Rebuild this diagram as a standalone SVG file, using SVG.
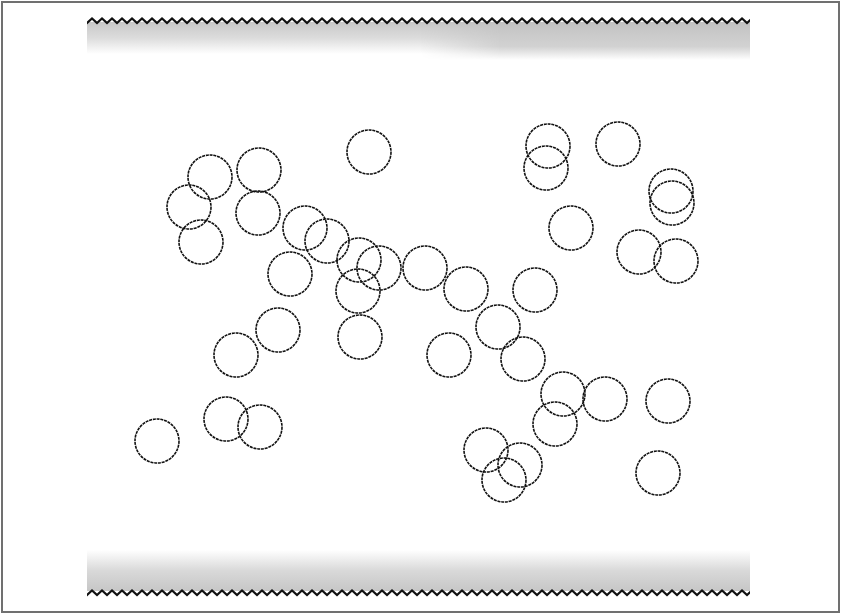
<svg xmlns="http://www.w3.org/2000/svg" width="842" height="615" viewBox="0 0 842 615">
  <defs>
    <linearGradient id="topFade" x1="0" y1="0" x2="0" y2="1">
      <stop offset="0" stop-color="#c8c8c8"/>
      <stop offset="0.5" stop-color="#dcdcdc"/>
      <stop offset="1" stop-color="#ffffff"/>
    </linearGradient>
    <linearGradient id="topFadeR" x1="0" y1="0" x2="0" y2="1">
      <stop offset="0" stop-color="#c2c2c2"/>
      <stop offset="0.65" stop-color="#d2d2d2"/>
      <stop offset="1" stop-color="#ffffff"/>
    </linearGradient>
    <linearGradient id="hFade" x1="0" y1="0" x2="1" y2="0">
      <stop offset="0" stop-color="#000"/>
      <stop offset="1" stop-color="#fff"/>
    </linearGradient>
    <mask id="rightMask" maskUnits="userSpaceOnUse" x="0" y="0" width="842" height="615">
      <rect x="420" y="18" width="80" height="50" fill="url(#hFade)"/>
      <rect x="500" y="18" width="250" height="50" fill="#fff"/>
    </mask>
    <linearGradient id="botFade" x1="0" y1="1" x2="0" y2="0">
      <stop offset="0" stop-color="#c6c6c6"/>
      <stop offset="0.5" stop-color="#d9d9d9"/>
      <stop offset="1" stop-color="#ffffff"/>
    </linearGradient>
    <pattern id="zig" patternUnits="userSpaceOnUse" x="87" y="17" width="10" height="8">
      <path d="M-5,1.5 L0,6 L5,1.5 L10,6 L15,1.5" fill="none" stroke="#111" stroke-width="2.1"/>
    </pattern>
    <pattern id="zigB" patternUnits="userSpaceOnUse" x="87" y="589" width="10" height="8">
      <path d="M-5,1.5 L0,6 L5,1.5 L10,6 L15,1.5" fill="none" stroke="#111" stroke-width="2.1"/>
    </pattern>
  </defs>
  <style>
    .ball { fill: none; stroke: #111; stroke-width: 1.6; stroke-dasharray: 3 0.8; }
  </style>
  <rect x="0" y="0" width="842" height="615" fill="#ffffff"/>
  <rect x="2" y="2" width="837" height="610" fill="none" stroke="#707070" stroke-width="2"/>

  <g id="top-wall">
    <rect x="87" y="22" width="663" height="32" fill="url(#topFade)"/>
    <rect x="87" y="22" width="663" height="38" fill="url(#topFadeR)" mask="url(#rightMask)"/>
    <rect x="87" y="17" width="663" height="8" fill="url(#zig)"/>
  </g>
  <g id="bottom-wall">
    <rect x="87" y="550" width="663" height="41" fill="url(#botFade)"/>
    <rect x="87" y="589" width="663" height="8" fill="url(#zigB)"/>
  </g>

  <g id="molecules">
    <circle class="ball" cx="369" cy="152" r="22"/>
    <circle class="ball" cx="548" cy="146" r="22"/>
    <circle class="ball" cx="546" cy="168" r="22"/>
    <circle class="ball" cx="618" cy="144" r="22"/>
    <circle class="ball" cx="210" cy="177" r="22"/>
    <circle class="ball" cx="259" cy="170" r="22"/>
    <circle class="ball" cx="189" cy="207" r="22"/>
    <circle class="ball" cx="258" cy="213" r="22"/>
    <circle class="ball" cx="201" cy="242" r="22"/>
    <circle class="ball" cx="305" cy="228" r="22"/>
    <circle class="ball" cx="327" cy="241" r="22"/>
    <circle class="ball" cx="571" cy="228" r="22"/>
    <circle class="ball" cx="671" cy="191" r="22"/>
    <circle class="ball" cx="672" cy="203" r="22"/>
    <circle class="ball" cx="639" cy="252" r="22"/>
    <circle class="ball" cx="676" cy="261" r="22"/>
    <circle class="ball" cx="290" cy="274" r="22"/>
    <circle class="ball" cx="359" cy="260" r="22"/>
    <circle class="ball" cx="379" cy="268" r="22"/>
    <circle class="ball" cx="425" cy="268" r="22"/>
    <circle class="ball" cx="358" cy="291" r="22"/>
    <circle class="ball" cx="466" cy="289" r="22"/>
    <circle class="ball" cx="535" cy="290" r="22"/>
    <circle class="ball" cx="278" cy="330" r="22"/>
    <circle class="ball" cx="360" cy="337" r="22"/>
    <circle class="ball" cx="498" cy="327" r="22"/>
    <circle class="ball" cx="236" cy="355" r="22"/>
    <circle class="ball" cx="449" cy="355" r="22"/>
    <circle class="ball" cx="523" cy="359" r="22"/>
    <circle class="ball" cx="563" cy="394" r="22"/>
    <circle class="ball" cx="605" cy="399" r="22"/>
    <circle class="ball" cx="668" cy="401" r="22"/>
    <circle class="ball" cx="555" cy="424" r="22"/>
    <circle class="ball" cx="226" cy="419" r="22"/>
    <circle class="ball" cx="260" cy="427" r="22"/>
    <circle class="ball" cx="157" cy="441" r="22"/>
    <circle class="ball" cx="486" cy="450" r="22"/>
    <circle class="ball" cx="520" cy="465" r="22"/>
    <circle class="ball" cx="504" cy="480" r="22"/>
    <circle class="ball" cx="658" cy="473" r="22"/>
  </g>
</svg>
